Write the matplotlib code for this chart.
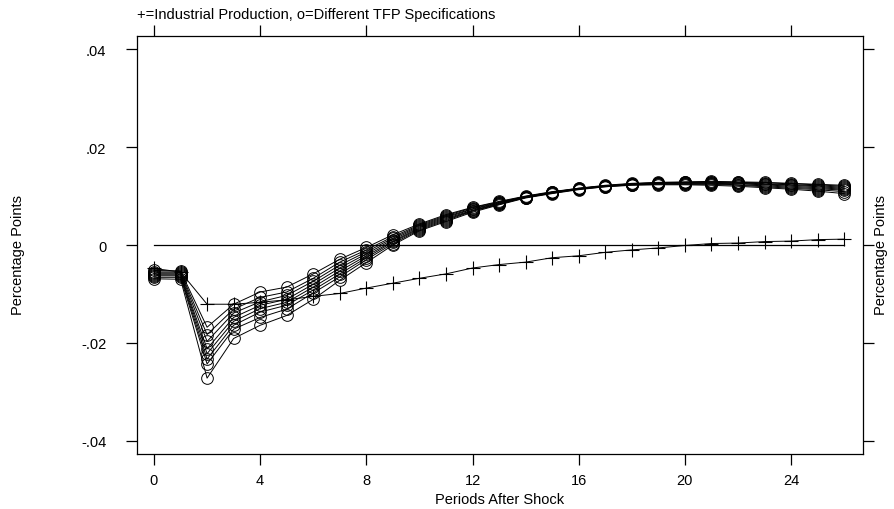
import matplotlib
matplotlib.use("Agg")
import matplotlib.pyplot as plt
import numpy as np

periods = list(range(27))

industrial_production = [-0.0048, -0.0055, -0.0121, -0.0121, -0.0117, -0.0112, -0.0105, -0.0099, -0.0088,
                         -0.0078, -0.0068, -0.0059, -0.0047, -0.0040, -0.0035, -0.0026, -0.0022, -0.0015,
                         -0.0010, -0.0006, -0.0001, 0.0003, 0.0004, 0.0007, 0.0008, 0.0011, 0.0012]

tfp_1 = [-0.0052, -0.0053, -0.0168, -0.0121, -0.0096, -0.0086, -0.0059, -0.0029, -0.0005, 0.0021, 0.0043,
         0.0062, 0.0077, 0.0089, 0.0100, 0.0109, 0.0116, 0.0122, 0.0126, 0.0128, 0.0129, 0.0130, 0.0129,
         0.0128, 0.0126, 0.0124, 0.0122]
tfp_2 = [-0.0055, -0.0055, -0.0183, -0.0131, -0.0107, -0.0096, -0.0068, -0.0035, -0.0010, 0.0017, 0.0041,
         0.0060, 0.0076, 0.0088, 0.0099, 0.0108, 0.0116, 0.0121, 0.0125, 0.0127, 0.0128, 0.0129, 0.0128,
         0.0127, 0.0125, 0.0123, 0.0120]
tfp_3 = [-0.0057, -0.0057, -0.0197, -0.0139, -0.0116, -0.0103, -0.0074, -0.0041, -0.0014, 0.0014, 0.0039,
         0.0058, 0.0074, 0.0087, 0.0099, 0.0108, 0.0115, 0.0121, 0.0125, 0.0127, 0.0128, 0.0128, 0.0127,
         0.0125, 0.0123, 0.0121, 0.0118]
tfp_4 = [-0.0059, -0.0059, -0.0212, -0.0148, -0.0123, -0.0111, -0.0080, -0.0047, -0.0018, 0.0011, 0.0037,
         0.0056, 0.0073, 0.0086, 0.0098, 0.0107, 0.0115, 0.0121, 0.0124, 0.0126, 0.0127, 0.0127, 0.0126,
         0.0124, 0.0122, 0.0119, 0.0116]
tfp_5 = [-0.0061, -0.0061, -0.0222, -0.0156, -0.0130, -0.0117, -0.0086, -0.0053, -0.0022, 0.0008, 0.0035,
         0.0054, 0.0071, 0.0085, 0.0098, 0.0107, 0.0115, 0.0120, 0.0124, 0.0126, 0.0126, 0.0126, 0.0125,
         0.0123, 0.0120, 0.0117, 0.0114]
tfp_6 = [-0.0063, -0.0063, -0.0233, -0.0164, -0.0137, -0.0123, -0.0092, -0.0059, -0.0026, 0.0006, 0.0033,
         0.0052, 0.0070, 0.0084, 0.0097, 0.0106, 0.0114, 0.0120, 0.0123, 0.0125, 0.0125, 0.0125, 0.0123,
         0.0121, 0.0118, 0.0115, 0.0112]
tfp_7 = [-0.0066, -0.0066, -0.0243, -0.0172, -0.0148, -0.0131, -0.0098, -0.0065, -0.0030, 0.0003, 0.0031,
         0.0050, 0.0069, 0.0083, 0.0097, 0.0106, 0.0114, 0.0119, 0.0123, 0.0124, 0.0124, 0.0124, 0.0122,
         0.0119, 0.0116, 0.0113, 0.0109]
tfp_8 = [-0.0069, -0.0070, -0.0272, -0.0191, -0.0164, -0.0144, -0.0111, -0.0072, -0.0036, 0.0000, 0.0029,
         0.0048, 0.0067, 0.0082, 0.0096, 0.0105, 0.0113, 0.0119, 0.0122, 0.0123, 0.0123, 0.0122, 0.0120,
         0.0117, 0.0114, 0.0110, 0.0105]
tfp_series = [tfp_1, tfp_2, tfp_3, tfp_4, tfp_5, tfp_6, tfp_7, tfp_8]

x_ticks = [0, 4, 8, 12, 16, 20, 24]
x_tick_labels = ["0", "4", "8", "12", "16", "20", "24"]
y_ticks = [-0.04, -0.02, 0, 0.02, 0.04]
y_tick_labels = ["-.04", "-.02", "0", ".02", ".04"]

title_text = "+=Industrial Production, o=Different TFP Specifications"
x_label = "Periods After Shock"
y_label = "Percentage Points"

plt.rcParams['font.family'] = ['Liberation Sans', 'DejaVu Sans']

W, H = 895, 510
fig = plt.figure(figsize=(W / 100, H / 100), dpi=100)
left, right, top, bottom = 137, 863, 37, 455
ax = fig.add_axes([left / W, (H - bottom) / H, (right - left) / W, (bottom - top) / H])

# zero reference line
ax.plot([periods[0], periods[-1]], [0, 0], color='black', lw=0.9, zorder=1)

for s in tfp_series:
    ax.plot(periods, s, color='black', lw=0.7, marker='o', markersize=8.4,
            markerfacecolor='none', markeredgecolor='black', markeredgewidth=0.7, zorder=2)

ax.plot(periods, industrial_production, color='black', lw=0.7, marker='+', markersize=9.5,
        markeredgewidth=0.8, zorder=3)

ax.set_xlim(-0.64, 26.71)
ax.set_ylim(-0.0427, 0.0427)

ax.set_xticks(x_ticks)
ax.set_xticklabels(x_tick_labels, fontsize=10.5)
ax.set_yticks(y_ticks)
ax.set_yticklabels(y_tick_labels, fontsize=10.5)

ax.tick_params(axis='both', direction='out', length=8, width=0.9, color='black')
ax.tick_params(axis='x', top=True, labeltop=False, pad=6)
ax.tick_params(axis='y', right=True, labelright=False, pad=14)
for sp in ax.spines.values():
    sp.set_linewidth(0.9)

ax.set_xlabel(x_label, fontsize=10.5, labelpad=3)

ycenter = 1 - 255 / H
fig.text(18 / W, ycenter, y_label, rotation=90, ha='center', va='center', fontsize=10.5)
fig.text(881 / W, ycenter, y_label, rotation=90, ha='center', va='center', fontsize=10.5)
fig.text(137 / W, 1 - 15 / H, title_text, ha='left', va='center', fontsize=10.5)

fig.savefig("out.png", dpi=100)
